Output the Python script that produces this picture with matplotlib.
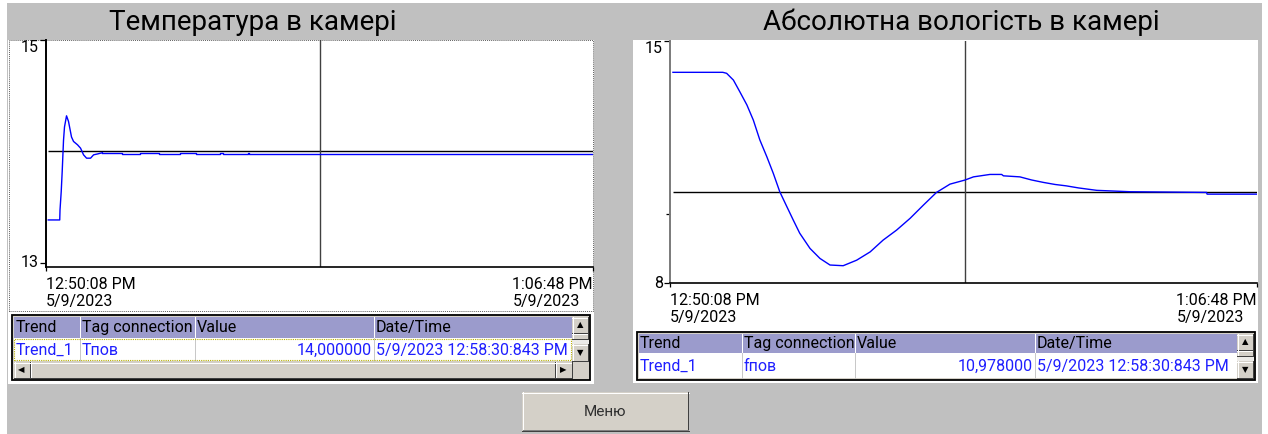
import matplotlib.pyplot as plt
from matplotlib.patches import Rectangle
from matplotlib.lines import Line2D

# values
titles = ['Температура в камері', 'Абсолютна вологість в камері']
time_labels = ['12:50:08 PM\n5/9/2023', '1:06:48 PM\n5/9/2023']
span_s = 1000      # 12:50:08 PM .. 1:06:48 PM
cursor_s = 502     # 12:58:30 PM

# temperature: transient part, then the small steps around 14
temp_t = [5, 26, 26.5, 28.7, 30.5, 32.9, 34.7, 38.4, 42, 47.5, 51.2, 58.5, 64, 69.5, 75, 82.3, 87.8, 95, 104]
temp_v = [13.386, 13.386, 13.475, 13.64, 13.82, 14.10, 14.22, 14.32, 14.27, 14.13, 14.09, 14.06, 14.03,
          13.97, 13.94, 13.94, 13.97, 13.978, 13.989]
temp_tail_t = [104, 139, 172, 208, 245, 274, 318, 324, 369, 371, 1000]
temp_tail_v = [13.989, 13.978, 13.989, 13.978, 13.989, 13.978, 13.989, 13.978, 13.989, 13.978, 13.978]
temp_setpoint = 14.0
temp_yticks = [13, 15]

# absolute humidity
hum_t = [5, 90, 96.5, 108, 119, 131, 142, 153, 165, 176, 187, 199, 210, 221, 238.5, 255.5, 272.6, 295, 318, 341,
         363, 386, 409, 431.5, 454, 477, 502.5, 517, 545, 565, 568, 596, 616, 636, 656, 675, 696, 727, 784, 914,
         915, 1000]
hum_v = [14.094, 14.094, 14.065, 13.87, 13.53, 13.15, 12.71, 12.14, 11.65, 11.17, 10.64, 10.21, 9.82, 9.44, 9.00,
         8.71, 8.52, 8.50, 8.66, 8.90, 9.24, 9.53, 9.87, 10.25, 10.62, 10.86, 10.978, 11.07, 11.14, 11.14, 11.10,
         11.07, 10.98, 10.91, 10.85, 10.81, 10.75, 10.68, 10.64, 10.62, 10.57, 10.57]
hum_setpoint = 10.62
hum_yticks = [8, 15]
hum_minor = [10]

table_cols = ['Trend', 'Tag connection', 'Value', 'Date/Time']
temp_row = ['Trend_1', 'Tпов', '14,000000', '5/9/2023 12:58:30:843 PM']
hum_row = ['Trend_1', 'fпов', '10,978000', '5/9/2023 12:58:30:843 PM']

plt.rcParams['font.family'] = ['Roboto', 'DejaVu Sans']

W, H = 1268, 434
fig = plt.figure(figsize=(W / 100, H / 100), dpi=100)
fig.patch.set_facecolor('white')
PX = 0.72  # one pixel in points


def frac(x0, y0, x1, y1):
    # pixel box (origin top-left) -> figure fraction [l, b, w, h]
    return [x0 / W, 1 - y1 / H, (x1 - x0) / W, (y1 - y0) / H]


def rect(x0, y0, x1, y1, fc='none', ec='none', lw=0, ls='-', z=0):
    l, b, w, h = frac(x0, y0, x1, y1)
    r = Rectangle((l, b), w, h, transform=fig.transFigure, facecolor=fc, edgecolor=ec,
                  linewidth=lw, linestyle=ls, zorder=z)
    fig.add_artist(r)
    return r


def line(xs, ys, color, lw=PX, z=2, ls='-'):
    fig.add_artist(Line2D([x / W for x in xs], [1 - y / H for y in ys], transform=fig.transFigure,
                          color=color, lw=lw, zorder=z, linestyle=ls))


def text(x, y, s, **kw):
    kw.setdefault('fontsize', 11.5)
    kw.setdefault('va', 'center')
    return fig.text(x / W, 1 - y / H, s, **kw)


def button3d(x0, y0, x1, y1, z=3):
    rect(x0, y0, x1, y1, fc='#d4d0c8', z=z)
    line([x0, x1], [y0 + 0.5, y0 + 0.5], 'white', z=z + 0.1)
    line([x0 + 0.5, x0 + 0.5], [y0, y1], 'white', z=z + 0.1)
    line([x0, x1], [y1 - 0.5, y1 - 0.5], '#404040', z=z + 0.1)
    line([x1 - 0.5, x1 - 0.5], [y0, y1], '#404040', z=z + 0.1)


# background and panels
rect(7, 3, 1262, 434, fc='#c0c0c0', z=0)
rect(8, 40, 594, 384, fc='white', z=0.5)
rect(633, 40, 1258, 383, fc='white', z=0.5)
rect(9, 40, 593, 311, ec='#606060', lw=0.7, ls=(0, (1, 1)), z=0.6)

text(253, 22, titles[0], fontsize=20, ha='center')
text(961, 22, titles[1], fontsize=20, ha='center')


def chart(box, t, v, setpoint, ylim, yticks, spine_color, tail=None, minor=None):
    ax = fig.add_axes(frac(*box))
    ax.set_zorder(1)
    ax.set_facecolor('none')
    ax.plot(t, v, color='#0000ff', lw=1.0, zorder=3)
    if tail is not None:
        ax.plot(tail[0], tail[1], color='#0000ff', lw=1.0, drawstyle='steps-post', zorder=3)
    ax.hlines(setpoint, t[0], span_s, color='black', lw=1.0, zorder=2)
    ax.axvline(cursor_s, color='#404040', lw=1.0, zorder=2)
    ax.set_xlim(0, span_s)
    ax.set_ylim(*ylim)
    ax.set_xticks([0, span_s], time_labels)
    ax.set_yticks(yticks, [str(y) for y in yticks])
    if minor:
        ax.set_yticks(minor, minor=True)
    for s in ['top', 'right']:
        ax.spines[s].set_visible(False)
    ax.spines['bottom'].set_linewidth(1.2)
    ax.spines['left'].set_linewidth(1.4)
    ax.spines['left'].set_color(spine_color)
    ax.tick_params(axis='x', length=3, width=0.9, pad=4, labelsize=11.5, colors='black')
    ax.tick_params(axis='y', which='both', length=4, width=0.9, pad=1, labelsize=11.5)
    ax.tick_params(axis='y', which='minor', length=3)
    xl = ax.get_xticklabels()
    xl[0].set_ha('left')
    xl[-1].set_ha('right')
    for lab in xl:
        lab.set_multialignment('left')
    ax.get_yticklabels()[-1].set_va('top')
    ax.get_yticklabels()[0].set_va('center')
    return ax


chart((45.5, 40, 593, 267), temp_t, temp_v, temp_setpoint, (12.964, 15), temp_yticks, 'black',
      tail=(temp_tail_t, temp_tail_v))
chart((670, 41, 1257, 283), hum_t, hum_v, hum_setpoint, (8, 15), hum_yticks, '#7a7a7a', minor=hum_minor)


def table(x0, y0, x1, y1, col_x, head_y1, row_y1, sb_x, row, selected=False, hscroll=None):
    rect(x0, y0, x1, y1, fc='#d4d0c8', ec='black', lw=1.3, z=2)
    rect(x0 + 1.5, y0 + 1.5, sb_x, head_y1, fc='#9b9bcc', z=2.1)
    rect(x0 + 1.5, head_y1, sb_x, row_y1, fc='white', z=2.1)
    for cx in col_x[1:]:
        line([cx, cx], [y0 + 1.5, head_y1], 'white', z=2.2)
        line([cx, cx], [head_y1, row_y1], '#c8c8c8', z=2.2)
    hy = (y0 + head_y1) / 2 + 1
    ry = (head_y1 + row_y1) / 2 + 1
    for i, name in enumerate(table_cols):
        text(col_x[i] + 2, hy, name, color='black', zorder=4)
    clip = rect(x0, y0, sb_x, y1, z=0)
    for i, val in enumerate(row):
        if i == 2:
            t = text(col_x[3] - 2, ry, val, ha='right', color='#1f1fff', zorder=4)
        else:
            t = text(col_x[i] + 2, ry, val, color='#1f1fff', zorder=4)
        t.set_clip_path(clip)
    if selected:
        rect(x0 + 2, head_y1 + 1, sb_x - 1, row_y1 - 1, ec='#b8b000', lw=0.8, ls=(0, (1, 1)), z=2.5)
    # vertical scroll bar
    mid = (y0 + row_y1) / 2
    rect(sb_x, y0 + 1.5, x1 - 1.5, row_y1, fc='#ecebe8', z=2.1)
    button3d(sb_x, y0 + 2, x1 - 2, mid - 5)
    button3d(sb_x, mid - 5, x1 - 2, mid + 1)
    button3d(sb_x, row_y1 - 17, x1 - 2, row_y1)
    text((sb_x + x1) / 2 - 1, (y0 + mid - 5) / 2 + 1, '▲', fontsize=6, ha='center', family='DejaVu Sans', zorder=4)
    text((sb_x + x1) / 2 - 1, row_y1 - 8, '▼', fontsize=6, ha='center', family='DejaVu Sans', zorder=4)
    if hscroll:
        hy0, hy1 = hscroll
        button3d(x0 + 2, hy0, x0 + 18, hy1)
        button3d(x0 + 18, hy0, sb_x - 17, hy1)
        button3d(sb_x - 17, hy0, sb_x, hy1)
        text(x0 + 9, (hy0 + hy1) / 2, '◀', fontsize=6, ha='center', family='DejaVu Sans', zorder=4)
        text(sb_x - 9, (hy0 + hy1) / 2, '▶', fontsize=6, ha='center', family='DejaVu Sans', zorder=4)


table(12, 315, 590, 380, [14, 80, 195, 374], 338, 361, 572, temp_row, selected=True, hscroll=(362, 378))
table(637, 332, 1255, 380, [638, 742, 855, 1035], 353, 378, 1237, hum_row)

# "Меню" button
button3d(522, 392, 689, 431)
line([523, 688], [430, 430], '#808080', z=3.2)
text(605, 412, 'Меню', fontsize=11, ha='center', color='#303030', zorder=4)

fig.savefig('out.png', dpi=100)
